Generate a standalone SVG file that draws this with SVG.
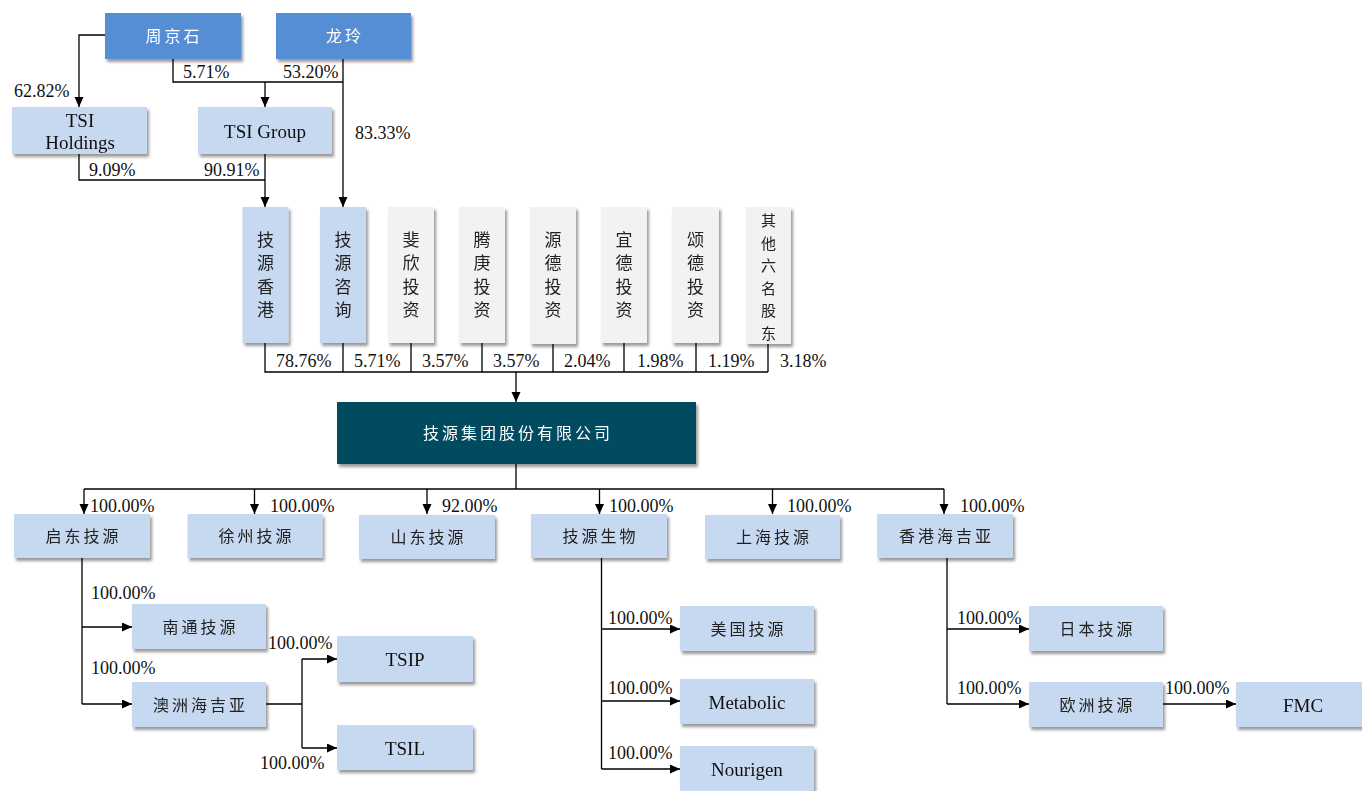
<svg xmlns="http://www.w3.org/2000/svg" width="1362" height="791" viewBox="0 0 1362 791">
<style>
.lb{fill:#c6d9f0}
.db{fill:#558ed5}
.gb{fill:#f2f2f2}
.cb{fill:#034b61}
.n{filter:url(#sh)}
.zh{font-family:"Noto Sans CJK SC",sans-serif;font-size:16px;letter-spacing:3px;text-anchor:middle;fill:#222}
.zw{font-family:"Noto Sans CJK SC",sans-serif;font-size:16px;letter-spacing:3px;text-anchor:middle;fill:#fff}
.zv{font-family:"Noto Sans CJK SC",sans-serif;font-size:17px;text-anchor:middle;fill:#222}
.zs{font-family:"Noto Sans CJK SC",sans-serif;font-size:15px;text-anchor:middle;fill:#222}
.en{font-family:"Liberation Serif",serif;font-size:19px;text-anchor:middle;fill:#111}
.pc{font-family:"Liberation Serif",serif;font-size:18px;fill:#111}
.ln{fill:none;stroke:#000;stroke-width:1.3}
.ar{marker-end:url(#ah)}
</style>
<defs>
<filter id="sh" x="-10%" y="-10%" width="130%" height="140%">
<feDropShadow dx="2" dy="3" stdDeviation="1.8" flood-color="#000" flood-opacity="0.4"/>
</filter>
<marker id="ah" markerUnits="userSpaceOnUse" markerWidth="10" markerHeight="10" refX="10" refY="4.5" orient="auto">
<path d="M0,0 L10,4.5 L0,9 z" fill="#000"/>
</marker>
</defs>
<rect width="1362" height="791" fill="#fff"/>

<g id="connectors">
<path class="ln ar" d="M105,35 H79 V107"/>
<path class="ln" d="M173,59 V82 H343"/>
<path class="ln ar" d="M265,82 V107"/>
<path class="ln ar" d="M343,59 V207"/>
<path class="ln" d="M79,154 V180 H265"/>
<path class="ln ar" d="M265,154 V207"/>
<path class="ln" d="M265,343 V372 H768 M343,343 V372 M411,343 V372 M482,343 V372 M553,344 V372 M624,343 V372 M696,343 V372 M768,344 V372"/>
<path class="ln ar" d="M516,372 V402"/>
<path class="ln" d="M516,464 V489 M84,489 H944"/>
<path class="ln ar" d="M84,489 V514"/>
<path class="ln ar" d="M254.5,489 V514"/>
<path class="ln ar" d="M427,489 V514"/>
<path class="ln ar" d="M599.5,489 V514"/>
<path class="ln ar" d="M772.5,489 V514"/>
<path class="ln ar" d="M944,489 V514"/>
<path class="ln" d="M82,558 V704"/>
<path class="ln ar" d="M82,627 H132"/>
<path class="ln ar" d="M82,704 H132"/>
<path class="ln" d="M266,704 H302 M302,659 V748"/>
<path class="ln ar" d="M302,659 H337"/>
<path class="ln ar" d="M302,748 H337"/>
<path class="ln" d="M601.5,558 V769"/>
<path class="ln ar" d="M601.5,629 H680"/>
<path class="ln ar" d="M601.5,701 H680"/>
<path class="ln ar" d="M601.5,769 H680"/>
<path class="ln" d="M947,558 V704"/>
<path class="ln ar" d="M947,629 H1029"/>
<path class="ln ar" d="M947,704 H1029"/>
<path class="ln ar" d="M1163,704 H1236"/>
</g>

<g id="labels">
<text class="pc" x="14" y="97">62.82%</text>
<text class="pc" x="183" y="78">5.71%</text>
<text class="pc" x="283" y="78">53.20%</text>
<text class="pc" x="355" y="139">83.33%</text>
<text class="pc" x="89" y="176">9.09%</text>
<text class="pc" x="204" y="176">90.91%</text>
<text class="pc" x="276" y="367">78.76%</text>
<text class="pc" x="354" y="367">5.71%</text>
<text class="pc" x="422" y="367">3.57%</text>
<text class="pc" x="493" y="367">3.57%</text>
<text class="pc" x="564" y="367">2.04%</text>
<text class="pc" x="637" y="367">1.98%</text>
<text class="pc" x="708" y="367">1.19%</text>
<text class="pc" x="780" y="367">3.18%</text>
<text class="pc" x="90" y="512">100.00%</text>
<text class="pc" x="270" y="512">100.00%</text>
<text class="pc" x="442" y="512">92.00%</text>
<text class="pc" x="609" y="512">100.00%</text>
<text class="pc" x="787" y="512">100.00%</text>
<text class="pc" x="960" y="512">100.00%</text>
<text class="pc" x="91" y="599">100.00%</text>
<text class="pc" x="91" y="674">100.00%</text>
<text class="pc" x="268" y="649">100.00%</text>
<text class="pc" x="260" y="769">100.00%</text>
<text class="pc" x="608" y="624">100.00%</text>
<text class="pc" x="608" y="694">100.00%</text>
<text class="pc" x="608" y="759">100.00%</text>
<text class="pc" x="957" y="624">100.00%</text>
<text class="pc" x="957" y="694">100.00%</text>
<text class="pc" x="1165" y="694">100.00%</text>
</g>

<g id="n-zhoujingshi" class="n"><rect class="db" x="105" y="13" width="136" height="46"/><text class="zw" x="174" y="42">周京石</text></g>
<g id="n-longling" class="n"><rect class="db" x="276" y="13" width="135" height="46"/><text class="zw" x="345" y="42">龙玲</text></g>
<g id="n-tsi-holdings" class="n"><rect class="lb" x="12" y="107" width="135" height="47"/><text class="en" x="80" y="127">TSI</text><text class="en" x="80" y="149">Holdings</text></g>
<g id="n-tsi-group" class="n"><rect class="lb" x="198" y="107" width="134" height="47"/><text class="en" x="265" y="138">TSI Group</text></g>

<g id="n-jyxg" class="n"><rect class="lb" x="242.5" y="207" width="46" height="136"/><text class="zv"><tspan x="265.5" y="246">技</tspan><tspan x="265.5" y="269">源</tspan><tspan x="265.5" y="293">香</tspan><tspan x="265.5" y="316">港</tspan></text></g>
<g id="n-jyzx" class="n"><rect class="lb" x="320" y="207" width="46" height="136"/><text class="zv"><tspan x="343" y="246">技</tspan><tspan x="343" y="269">源</tspan><tspan x="343" y="293">咨</tspan><tspan x="343" y="316">询</tspan></text></g>
<g id="n-fxtz" class="n"><rect class="gb" x="388" y="207" width="46" height="136"/><text class="zv"><tspan x="411" y="246">斐</tspan><tspan x="411" y="269">欣</tspan><tspan x="411" y="293">投</tspan><tspan x="411" y="316">资</tspan></text></g>
<g id="n-tgtz" class="n"><rect class="gb" x="459" y="207" width="46" height="136"/><text class="zv"><tspan x="482" y="246">腾</tspan><tspan x="482" y="269">庚</tspan><tspan x="482" y="293">投</tspan><tspan x="482" y="316">资</tspan></text></g>
<g id="n-ydtz" class="n"><rect class="gb" x="530" y="207" width="46" height="137"/><text class="zv"><tspan x="553" y="246">源</tspan><tspan x="553" y="269">德</tspan><tspan x="553" y="293">投</tspan><tspan x="553" y="316">资</tspan></text></g>
<g id="n-yidtz" class="n"><rect class="gb" x="601" y="207" width="46" height="136"/><text class="zv"><tspan x="624" y="246">宜</tspan><tspan x="624" y="269">德</tspan><tspan x="624" y="293">投</tspan><tspan x="624" y="316">资</tspan></text></g>
<g id="n-sdtz" class="n"><rect class="gb" x="672" y="207" width="47" height="136"/><text class="zv"><tspan x="695.5" y="246">颂</tspan><tspan x="695.5" y="269">德</tspan><tspan x="695.5" y="293">投</tspan><tspan x="695.5" y="316">资</tspan></text></g>
<g id="n-others" class="n"><rect class="gb" x="746" y="207" width="45" height="137"/><text class="zs"><tspan x="768.5" y="226">其</tspan><tspan x="768.5" y="248.6">他</tspan><tspan x="768.5" y="271.2">六</tspan><tspan x="768.5" y="293.8">名</tspan><tspan x="768.5" y="316.4">股</tspan><tspan x="768.5" y="339">东</tspan></text></g>

<g id="n-group" class="n"><rect class="cb" x="337" y="402" width="359" height="62"/><text class="zw" x="518" y="439">技源集团股份有限公司</text></g>

<g id="n-qidong" class="n"><rect class="lb" x="14" y="514" width="136" height="44"/><text class="zh" x="83.5" y="542">启东技源</text></g>
<g id="n-xuzhou" class="n"><rect class="lb" x="187.5" y="514" width="135" height="44"/><text class="zh" x="256.5" y="542">徐州技源</text></g>
<g id="n-shandong" class="n"><rect class="lb" x="359" y="515" width="136" height="44"/><text class="zh" x="428.5" y="543">山东技源</text></g>
<g id="n-bio" class="n"><rect class="lb" x="531" y="514" width="136" height="44"/><text class="zh" x="600.5" y="542">技源生物</text></g>
<g id="n-shanghai" class="n"><rect class="lb" x="705" y="515" width="135" height="44"/><text class="zh" x="774" y="543">上海技源</text></g>
<g id="n-hk-hja" class="n"><rect class="lb" x="877" y="514" width="136" height="44"/><text class="zh" x="946.5" y="542">香港海吉亚</text></g>

<g id="n-nantong" class="n"><rect class="lb" x="132" y="604" width="134" height="45"/><text class="zh" x="200.5" y="633">南通技源</text></g>
<g id="n-au-hja" class="n"><rect class="lb" x="132" y="682" width="134" height="45"/><text class="zh" x="200.5" y="711">澳洲海吉亚</text></g>
<g id="n-tsip" class="n"><rect class="lb" x="337" y="636" width="136" height="46"/><text class="en" x="405" y="666">TSIP</text></g>
<g id="n-tsil" class="n"><rect class="lb" x="337" y="725" width="136" height="45"/><text class="en" x="405" y="755">TSIL</text></g>

<g id="n-us" class="n"><rect class="lb" x="680" y="606" width="134" height="45"/><text class="zh" x="748.5" y="635">美国技源</text></g>
<g id="n-metabolic" class="n"><rect class="lb" x="680" y="679" width="134" height="45"/><text class="en" x="747" y="709">Metabolic</text></g>
<g id="n-nourigen" class="n"><rect class="lb" x="680" y="746" width="134" height="50"/><text class="en" x="747" y="776">Nourigen</text></g>

<g id="n-japan" class="n"><rect class="lb" x="1029" y="606" width="134" height="45"/><text class="zh" x="1097.5" y="635">日本技源</text></g>
<g id="n-europe" class="n"><rect class="lb" x="1029" y="682" width="134" height="45"/><text class="zh" x="1097.5" y="711">欧洲技源</text></g>
<g id="n-fmc" class="n"><rect class="lb" x="1236" y="682" width="130" height="45"/><text class="en" x="1303" y="712">FMC</text></g>
</svg>
